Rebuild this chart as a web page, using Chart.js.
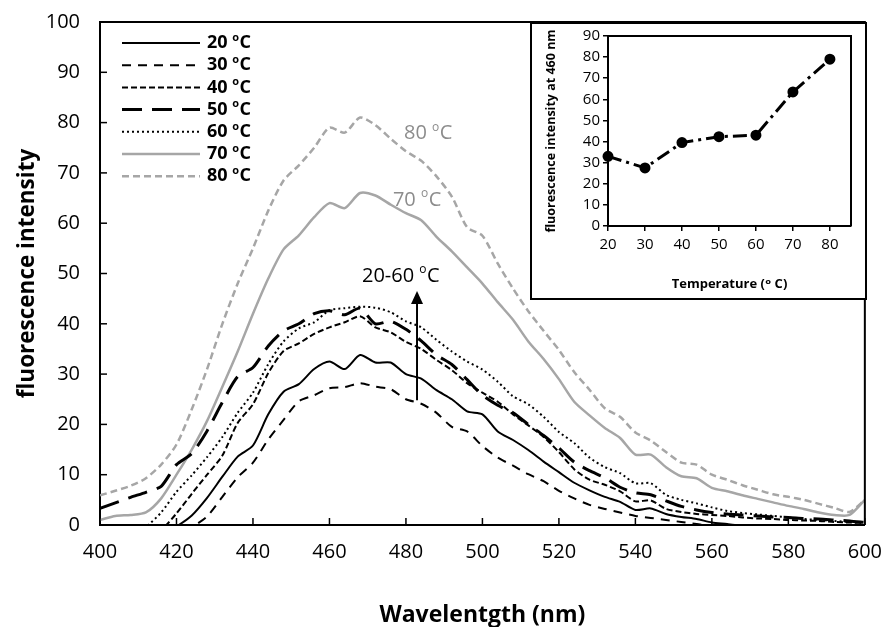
<!DOCTYPE html>
<html>
<head>
<meta charset="utf-8">
<script src="https://cdn.jsdelivr.net/npm/chart.js@4.4.0/dist/chart.umd.min.js"></script>
<style>
    body { margin: 0; background: #fff; }
    #wrap { position: relative; width: 882px; height: 627px; }
    #insetBox { position: absolute; left: 530px; top: 22px; width: 333px; height: 274px; border: 2px solid #000; background: #fff; }
</style>
</head>
<body>
<div id="wrap">
    <canvas id="spectraChart" width="882" height="627"></canvas>
    <div id="insetBox"><canvas id="insetChart" width="333" height="274"></canvas></div>
</div>
<script>
// ---- data ----
const wavelengths = [400,404,408,412,416,420,424,428,432,436,440,444,448,452,456,460,464,468,472,476,480,
    484,488,492,496,500,504,508,512,516,520,524,528,532,536,540,544,548,552,556,560,564,568,572,576,580,584,588,592,596,600];

const int20 = [-8,-7,-5.5,-4,-2,-0.3,1.9,5.4,9.6,13.6,15.8,22,26.5,28,31,32.5,31,33.8,32.3,32.3,30,
    29.1,26.8,25,22.6,22,18.6,16.9,14.9,12.6,10.5,8.4,6.9,5.6,4.6,3,3.3,2.2,1.6,1.2,0.5,0.2,-0.2,-0.5,-0.5,-0.7,-0.8,-1,-1,-1.2,-1.2];
const int30 = [-10,-9,-8,-6,-4.5,-2.5,-0.5,1.7,5.6,9.5,12.4,17,20.9,24.6,25.8,27.2,27.4,28.2,27.5,27,25,
    24.1,22.3,19.5,18.6,15.7,13.4,11.8,10.1,8.7,6.8,5.3,4,3.2,2.5,1.8,1.4,1,0.6,0.2,-0.3,-0.5,-0.6,-0.8,-1,-1,-1.2,-1.2,-1.3,-1.4,-1.5];
const int40 = [-6,-5,-4,-2.5,-1,2.3,6.2,10,13.8,20.3,24,30.2,34.6,36.1,38,39.3,40.3,41.5,39.3,38.3,36.4,
    35,32.8,30.8,28.2,26.3,24.5,22,19.8,17.5,14.5,11.1,9,8,6.7,4.7,4.9,3.2,2.6,2.2,2,1.8,1.5,1.3,1.2,1,0.9,0.8,0.6,0.5,0.4];
const int50 = [3.3,4.4,5.5,6.5,7.7,12,14.2,18.7,24.4,29.5,31.3,35.6,38.6,40,42,42.6,41.8,43.1,40,40.5,38.9,
    36.6,33.8,31.9,28.9,25.8,23.8,22.3,20,17.8,15.3,12.5,10.8,9.4,7.5,6.4,6,4.8,3.7,3,2.5,2.2,2,1.8,1.6,1.5,1.3,1.2,1,0.8,0.5];
const int60 = [-3,-2.5,-1.5,-0.3,2.5,6.6,9.9,13.5,17.5,22.3,26.3,32,36.5,39.1,40.3,42.7,43.1,43.4,43.2,42.3,40.5,
    39.3,36.8,34.5,32.5,30.9,28.5,25.6,24,21.5,18.5,16.3,13.4,11.5,10.3,8.3,8.3,6,5,4.3,3.5,2.8,2.4,2.1,1.8,1.5,1.2,1,0.8,0.6,0.4];
const int70 = [1,1.8,2,2.5,5.3,10,15,20.7,27.5,34.5,42,49,54.8,57.6,61.2,64,63,66,65.5,63.7,62,
    60.6,57.3,54.4,51.2,48,44.3,40.8,36.5,33,29,24.5,21.8,19.3,17.3,14,14,11.5,9.7,9.3,7.4,6.7,5.9,5.2,4.5,3.8,3.2,2.5,2,2,5];
const int80 = [5.9,6.8,7.8,9.3,12,16,23,31,40,48,55,62.5,68.5,71.5,75,79,78,81,79.5,76.8,74.3,
    72.4,69.3,65.3,59.2,57.5,52,47,42.5,38.6,34.8,30.4,26.9,23.2,21.5,18.4,16.8,14.5,12.4,12,10,9,7.9,7,6.1,5.6,5,4.2,3.4,2.6,5];

const seriesLabels = ['20 ᵒC', '30 ᵒC', '40 ᵒC', '50 ᵒC', '60 ᵒC', '70 ᵒC', '80 ᵒC'];
const xTicks = [400, 420, 440, 460, 480, 500, 520, 540, 560, 580, 600];

// inset: intensity at 460 nm vs temperature
const temperatures = [20, 30, 40, 50, 60, 70, 80];
const int460 = [33, 27.5, 39.5, 42.3, 43, 63.5, 79];
const insetXTicks = [20, 30, 40, 50, 60, 70, 80];

const FONT = "'Open Sans', 'DejaVu Sans', sans-serif";
const GREY = '#a6a6a6';

Chart.defaults.font.family = FONT;
Chart.defaults.color = '#000';

function toPoints(values) {
    return wavelengths.map((w, i) => ({ x: w, y: values[i] }));
}

const styles = [
    { data: int20, color: '#000', width: 2, dash: [] },
    { data: int30, color: '#000', width: 2, dash: [9, 7] },
    { data: int40, color: '#000', width: 2, dash: [6, 3] },
    { data: int50, color: '#000', width: 3, dash: [20, 10] },
    { data: int60, color: '#000', width: 2, dash: [2, 3] },
    { data: int70, color: GREY, width: 2.5, dash: [] },
    { data: int80, color: GREY, width: 2.5, dash: [7, 4] }
];

// annotation texts and arrow (in data units)
const notes = [
    { text: '80 ᵒC', nm: 479.5, v: 77.8, color: '#8c8c8c' },
    { text: '70 ᵒC', nm: 476.6, v: 64.6, color: '#8c8c8c' },
    { text: '20-60 ᵒC', nm: 468.5, v: 49.5, color: '#000' }
];
const arrow = { nm: 482.9, from: 24.8, to: 46.5 };

// text with a raised small "o" for the degree sign
function drawDegText(ctx, text, x, y, size, weight) {
    const parts = text.split('ᵒ');
    ctx.font = weight + ' ' + size + 'px ' + FONT;
    ctx.fillText(parts[0], x, y);
    let cx = x + ctx.measureText(parts[0]).width;
    const small = Math.round(size * 0.62);
    ctx.font = weight + ' ' + small + 'px ' + FONT;
    ctx.fillText('o', cx, y - size * 0.3);
    cx += ctx.measureText('o').width + 0.5;
    ctx.font = weight + ' ' + size + 'px ' + FONT;
    ctx.fillText(parts[1], cx, y);
}

// frame, inner ticks, legend and annotations
const spectraDecor = {
    id: 'spectraDecor',
    afterDatasetsDraw(chart) {
        const { ctx, chartArea: a, scales: { x, y } } = chart;
        ctx.save();
        ctx.strokeStyle = '#000';
        ctx.lineWidth = 2;
        ctx.beginPath();
        ctx.moveTo(a.left, a.top);
        ctx.lineTo(a.right, a.top);
        ctx.lineTo(a.right, a.bottom);
        ctx.stroke();

        ctx.lineWidth = 1.5;
        x.ticks.forEach(t => {
            const px = x.getPixelForValue(t.value);
            ctx.beginPath(); ctx.moveTo(px, a.bottom); ctx.lineTo(px, a.bottom - 7); ctx.stroke();
        });
        y.ticks.forEach(t => {
            const py = y.getPixelForValue(t.value);
            ctx.beginPath(); ctx.moveTo(a.left, py); ctx.lineTo(a.left + 7, py); ctx.stroke();
        });

        // legend
        ctx.textBaseline = 'middle';
        ctx.textAlign = 'left';
        chart.data.datasets.forEach((ds, i) => {
            const ly = 43 + i * 22.2;
            ctx.strokeStyle = ds.borderColor;
            ctx.lineWidth = ds.borderWidth;
            ctx.setLineDash(ds.borderDash);
            ctx.beginPath(); ctx.moveTo(122, ly); ctx.lineTo(200, ly); ctx.stroke();
            ctx.setLineDash([]);
            ctx.fillStyle = '#000';
            drawDegText(ctx, ds.label, 207, ly, 18, 'bold');
        });

        // notes
        notes.forEach(n => {
            ctx.fillStyle = n.color;
            drawDegText(ctx, n.text, x.getPixelForValue(n.nm), y.getPixelForValue(n.v), 20, 'normal');
        });

        // arrow
        const ax = x.getPixelForValue(arrow.nm);
        const y0 = y.getPixelForValue(arrow.from);
        const y1 = y.getPixelForValue(arrow.to);
        ctx.strokeStyle = '#000';
        ctx.fillStyle = '#000';
        ctx.lineWidth = 2;
        ctx.beginPath(); ctx.moveTo(ax, y0); ctx.lineTo(ax, y1 + 10); ctx.stroke();
        ctx.beginPath();
        ctx.moveTo(ax, y1); ctx.lineTo(ax - 6, y1 + 13); ctx.lineTo(ax + 6, y1 + 13); ctx.closePath();
        ctx.fill();
        ctx.restore();
    }
};

new Chart(document.getElementById('spectraChart'), {
    type: 'line',
    data: {
        datasets: styles.map((s, i) => ({
            label: seriesLabels[i],
            data: toPoints(s.data),
            borderColor: s.color,
            borderWidth: s.width,
            borderDash: s.dash,
            pointRadius: 0,
            tension: 0.25,
            fill: false
        }))
    },
    options: {
        responsive: false,
        animation: false,
        layout: { padding: { top: 22, right: 17, left: 0, bottom: 0 } },
        plugins: { legend: { display: false }, tooltip: { enabled: false } },
        scales: {
            x: {
                type: 'linear',
                min: 400,
                max: 600,
                afterBuildTicks: s => { s.ticks = xTicks.map(v => ({ value: v })); },
                afterFit: s => { s.height = 102; },
                ticks: { font: { size: 20 }, color: '#000', padding: 0 },
                // invisible tick marks only used as label offset
                grid: { drawOnChartArea: false, drawTicks: true, tickLength: 15, tickColor: 'rgba(0,0,0,0)' },
                border: { display: true, color: '#000', width: 2 },
                title: { display: true, text: 'Wavelentgth (nm)', font: { size: 23, weight: 'bold' }, color: '#000', padding: { top: 0, bottom: -2 } }
            },
            y: {
                min: 0,
                max: 100,
                afterFit: s => { s.width = 100; },
                ticks: { stepSize: 10, font: { size: 20 }, color: '#000', padding: 0 },
                grid: { drawOnChartArea: false, drawTicks: true, tickLength: 20, tickColor: 'rgba(0,0,0,0)' },
                border: { display: true, color: '#000', width: 2 },
                title: { display: true, text: 'fluorescence intensity', font: { size: 22.5, weight: 'bold' }, color: '#000', padding: { top: 14, bottom: 0 } }
            }
        }
    },
    plugins: [spectraDecor]
});

// inset frame (top and right sides)
const insetFrame = {
    id: 'insetFrame',
    afterDatasetsDraw(chart) {
        const { ctx, chartArea: a } = chart;
        ctx.save();
        ctx.strokeStyle = '#000';
        ctx.lineWidth = 2;
        ctx.beginPath();
        ctx.moveTo(a.left, a.top); ctx.lineTo(a.right, a.top); ctx.lineTo(a.right, a.bottom);
        ctx.stroke();
        ctx.restore();
    }
};

new Chart(document.getElementById('insetChart'), {
    type: 'line',
    data: {
        datasets: [{
            data: temperatures.map((t, i) => ({ x: t, y: int460[i] })),
            borderColor: '#000',
            backgroundColor: '#000',
            borderWidth: 3,
            borderDash: [14, 5, 3, 5],
            pointRadius: 4,
            pointBackgroundColor: '#000',
            pointBorderColor: '#000',
            tension: 0,
            clip: false
        }]
    },
    options: {
        responsive: false,
        animation: false,
        layout: { padding: { top: 12, right: 14, left: 0, bottom: 0 } },
        plugins: { legend: { display: false }, tooltip: { enabled: false } },
        scales: {
            x: {
                type: 'linear',
                min: 20,
                max: 85.7,
                afterBuildTicks: s => { s.ticks = insetXTicks.map(v => ({ value: v })); },
                afterFit: s => { s.height = 72; },
                ticks: { font: { size: 15 }, color: '#000', padding: 5, autoSkip: false, maxRotation: 0 },
                grid: { drawOnChartArea: false, tickLength: 5, color: '#000', lineWidth: 1.5 },
                border: { color: '#000', width: 2 },
                title: { display: true, text: 'Temperature (ᵒ C)', font: { size: 13, weight: 'bold' }, color: '#000', padding: { top: 0, bottom: 6 } }
            },
            y: {
                min: 0,
                max: 90,
                afterFit: s => { s.width = 76; },
                ticks: { stepSize: 10, font: { size: 15 }, color: '#000', padding: 3, autoSkip: false },
                grid: { drawOnChartArea: false, tickLength: 5, color: '#000', lineWidth: 1.5 },
                border: { color: '#000', width: 2 },
                title: { display: true, text: 'fluorescence intensity at 460 nm', font: { size: 12.5, weight: 'bold' }, color: '#000', padding: { top: 12, bottom: 0 } }
            }
        }
    },
    plugins: [insetFrame]
});
</script>
</body>
</html>
